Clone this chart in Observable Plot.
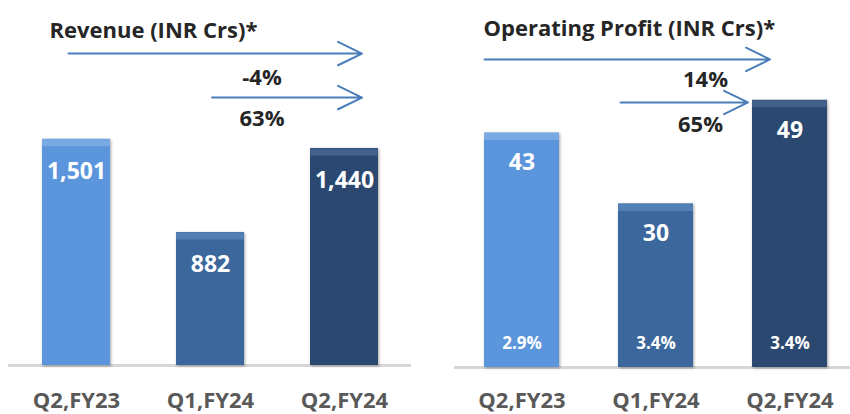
<!DOCTYPE html>
<html><head><meta charset="utf-8">
<script src="https://cdn.jsdelivr.net/npm/d3@7"></script>
<script src="https://cdn.jsdelivr.net/npm/@observablehq/plot@0.6"></script>
<style>
body{margin:0;background:#fff;}
#wrap{position:relative;width:850px;height:414px;overflow:hidden;}
#left,#right{position:absolute;top:0;}
#left{left:0;} #right{left:425px;}
svg{font-family:"Open Sans",Lato,sans-serif;overflow:visible;}
</style></head>
<body>
<div id="wrap"><div id="left"></div><div id="right"></div></div>
<script>
const categories = ["Q2,FY23", "Q1,FY24", "Q2,FY24"];
const revenue = [1501, 882, 1440];
const revenueLabels = ["1,501", "882", "1,440"];
const opProfit = [43, 30, 49];
const opMargin = ["2.9%", "3.4%", "3.4%"];
const revenueGrowth = [{label: "-4%", from: "Q2,FY23", to: "Q2,FY24"}, {label: "63%", from: "Q1,FY24", to: "Q2,FY24"}];
const profitGrowth = [{label: "14%", from: "Q2,FY23", to: "Q2,FY24"}, {label: "65%", from: "Q1,FY24", to: "Q2,FY24"}];
const barColors = ["#5b95db", "#3b679c", "#2b4970"];
const bevelColors = ["#7aaae4", "#5280b6", "#41618a"];

const revRows = categories.map((c, i) => ({cat: c, value: revenue[i], label: revenueLabels[i], fill: barColors[i], hi: bevelColors[i]}));
const opRows = categories.map((c, i) => ({cat: c, value: opProfit[i], label: String(opProfit[i]), margin: opMargin[i], fill: barColors[i], hi: bevelColors[i]}));

const arrowStyle = {stroke: "#4a7ebb", strokeWidth: 2, headAngle: 52, headLength: 20};
const dark = "#262626";

const left = Plot.plot({
  width: 425, height: 414,
  marginLeft: 8, marginRight: 14, marginTop: 0, marginBottom: 49,
  x: {domain: categories, paddingInner: 0.493, paddingOuter: 0.25, axis: null},
  y: {domain: [0, 2422], axis: null},
  color: {type: "identity"},
  marks: [
    Plot.ruleY([0], {stroke: "#d6d6d6", strokeWidth: 3}),
    Plot.barY(revRows, {x: "cat", y: "value", fill: "fill"}),
    Plot.tickY(revRows, {x: "cat", y: "value", stroke: "hi", strokeWidth: 7, dy: 3.5}),
    Plot.text(revRows, {x: "cat", y: "value", text: "label", dy: 32, fill: "white", fontSize: 23, fontWeight: "bold"}),
    Plot.axisX({tickSize: 0, tickPadding: 27, fontSize: 22, fontWeight: "bold", fill: "#595959", label: null}),
    Plot.text(["Revenue (INR Crs)*"], {frameAnchor: "top-left", dx: 41, dy: 22, fontSize: 22, fontWeight: "bold", fill: dark, textAnchor: "start"}),
    Plot.arrow([revenueGrowth[0]], {x1: "from", x2: "to", y: 2070, insetStart: -8, insetEnd: -17.5, ...arrowStyle}),
    Plot.arrow([revenueGrowth[1]], {x1: "from", x2: "to", y: 1778, insetStart: 1.5, insetEnd: -17.5, ...arrowStyle}),
    Plot.text([revenueGrowth[0]], {x: () => "Q1,FY24", y: 1911, text: "label", dx: 51.5, fontSize: 22, fontWeight: "bold", fill: dark}),
    Plot.text([revenueGrowth[1]], {x: () => "Q1,FY24", y: 1639, text: "label", dx: 51.5, fontSize: 22, fontWeight: "bold", fill: dark})
  ]
});

const right = Plot.plot({
  width: 425, height: 414,
  marginLeft: 29, marginRight: 0, marginTop: 0, marginBottom: 47,
  x: {domain: categories, paddingInner: 0.439, paddingOuter: 0.19, align: 0.57, axis: null},
  y: {domain: [0, 67.3], axis: null},
  color: {type: "identity"},
  marks: [
    Plot.ruleY([0], {stroke: "#d6d6d6", strokeWidth: 3}),
    Plot.barY(opRows, {x: "cat", y: "value", fill: "fill"}),
    Plot.tickY(opRows, {x: "cat", y: "value", stroke: "hi", strokeWidth: 7, dy: 3.5}),
    Plot.text(opRows, {x: "cat", y: "value", text: "label", dy: 30, fill: "white", fontSize: 23, fontWeight: "bold"}),
    Plot.text(opRows, {x: "cat", y: 0, text: "margin", dy: -24, fill: "white", fontSize: 17, fontWeight: "bold"}),
    Plot.axisX({tickSize: 0, tickPadding: 25, fontSize: 22, fontWeight: "bold", fill: "#595959", label: null}),
    Plot.text(["Operating Profit (INR Crs)*"], {frameAnchor: "top-left", dx: 29, dy: 20, fontSize: 22, fontWeight: "bold", fill: dark, textAnchor: "start"}),
    Plot.arrow([profitGrowth[0]], {x1: "from", x2: "to", y: 56.5, insetStart: -37.5, insetEnd: 20, ...arrowStyle}),
    Plot.arrow([profitGrowth[1]], {x1: "from", x2: "to", y: 48.6, insetStart: -35.5, insetEnd: 42, ...arrowStyle}),
    Plot.text([profitGrowth[0]], {x: () => "Q1,FY24", y: 52.7, text: "label", dx: 49.5, fontSize: 22, fontWeight: "bold", fill: dark}),
    Plot.text([profitGrowth[1]], {x: () => "Q1,FY24", y: 44.4, text: "label", dx: 44.5, fontSize: 22, fontWeight: "bold", fill: dark})
  ]
});

for (const svg of [left, right]) {
  d3.select(svg).selectAll('g[aria-label="bar"]').style("filter", "drop-shadow(1.5px 1.5px 1.5px rgba(0,0,0,0.35))");
}
document.getElementById("left").appendChild(left);
document.getElementById("right").appendChild(right);
</script>
</body></html>
